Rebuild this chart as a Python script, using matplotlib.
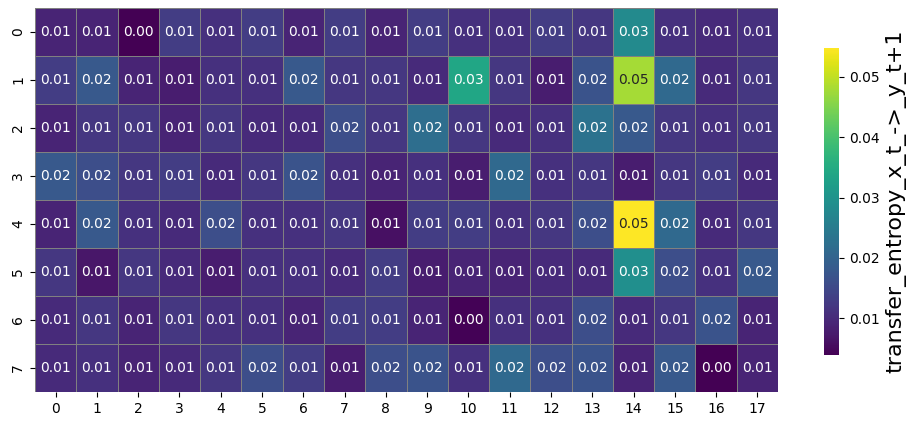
import numpy as np
import matplotlib
matplotlib.use('Agg')
import matplotlib.pyplot as plt
import seaborn as sns

# transfer entropy per cell (rows 0-7, cols 0-17)
row0 = [0.009, 0.009, 0.0039, 0.013, 0.011, 0.013, 0.009, 0.013, 0.009, 0.013, 0.011, 0.011, 0.013, 0.012, 0.028, 0.011, 0.010, 0.011]
row1 = [0.013, 0.018, 0.009, 0.008, 0.011, 0.011, 0.018, 0.012, 0.012, 0.010, 0.034, 0.012, 0.008, 0.017, 0.048, 0.021, 0.010, 0.012]
row2 = [0.009, 0.012, 0.012, 0.009, 0.012, 0.010, 0.010, 0.016, 0.012, 0.022, 0.012, 0.010, 0.011, 0.023, 0.018, 0.012, 0.011, 0.012]
row3 = [0.018, 0.016, 0.012, 0.013, 0.010, 0.012, 0.017, 0.011, 0.009, 0.011, 0.008, 0.021, 0.011, 0.012, 0.008, 0.012, 0.013, 0.010]
row4 = [0.009, 0.018, 0.011, 0.010, 0.016, 0.011, 0.011, 0.012, 0.006, 0.013, 0.013, 0.011, 0.012, 0.016, 0.0548, 0.021, 0.010, 0.012]
row5 = [0.012, 0.007, 0.012, 0.010, 0.008, 0.011, 0.011, 0.010, 0.013, 0.008, 0.009, 0.009, 0.010, 0.010, 0.029, 0.016, 0.011, 0.018]
row6 = [0.010, 0.012, 0.009, 0.012, 0.011, 0.011, 0.009, 0.013, 0.013, 0.009, 0.0041, 0.011, 0.011, 0.016, 0.010, 0.012, 0.017, 0.009]
row7 = [0.010, 0.011, 0.009, 0.010, 0.012, 0.016, 0.013, 0.008, 0.016, 0.017, 0.011, 0.021, 0.016, 0.017, 0.009, 0.018, 0.0040, 0.009]

data = np.array([row0, row1, row2, row3, row4, row5, row6, row7])

fig = plt.figure(figsize=(9.16, 4.28), dpi=100)
ax = fig.add_axes([35/916, 36/428, 743/916, 384/428])
cax = fig.add_axes([824/916, 73/428, 15/916, 307/428])

sns.heatmap(data, ax=ax, cbar_ax=cax, cmap='viridis', annot=True, fmt='.2f',
            linewidths=0.5, linecolor='gray', annot_kws={'size': 10})
cax.set_ylabel('transfer_entropy_x_t_->_y_t+1', fontsize=16)
cax.tick_params(labelsize=10)

fig.savefig('out.png', dpi=100)
